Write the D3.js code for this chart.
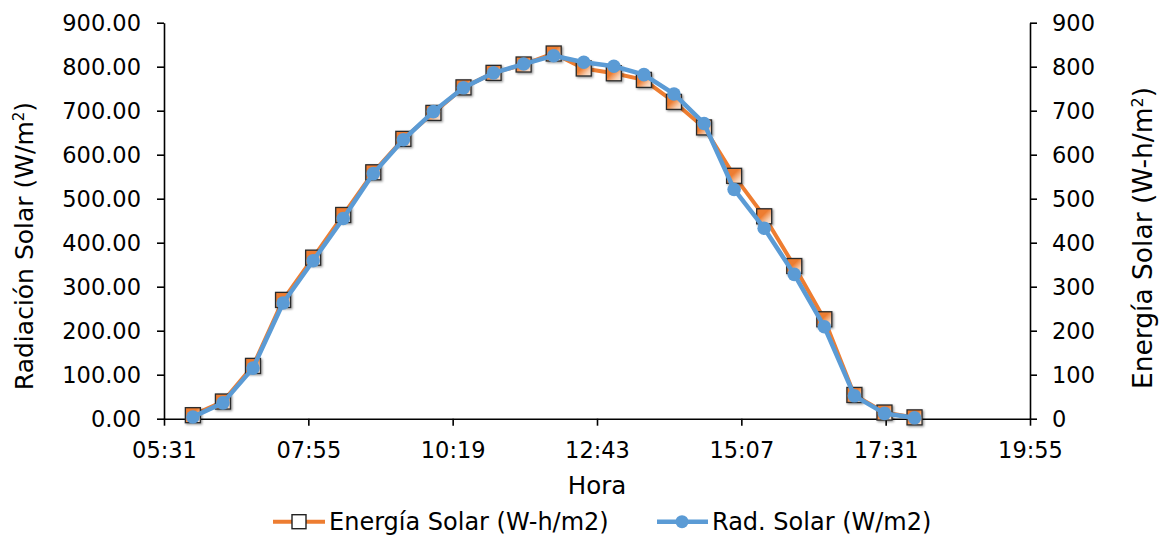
<!DOCTYPE html>
<html lang="es">
<head>
    <meta charset="UTF-8">
    <title>Radiación y Energía Solar</title>
    <script src="https://cdn.jsdelivr.net/npm/d3@7/dist/d3.min.js"></script>
    <style>
        body { margin: 0; background: #fff; }
        text { font-family: "DejaVu Sans", Verdana, sans-serif; fill: #000; }
        .axis path, .axis line { stroke: #000; stroke-width: 1.6; }
    </style>
</head>
<body>
<script>
    // datos (cada 30 min)
    var horas = ["06:00", "06:30", "07:00", "07:30", "08:00", "08:30", "09:00", "09:30",
        "10:00", "10:30", "11:00", "11:30", "12:00", "12:30", "13:00", "13:30",
        "14:00", "14:30", "15:00", "15:30", "16:00", "16:30", "17:00", "17:30", "18:00"];
    var energia = [8, 39, 120, 270, 366, 463, 560, 636, 695, 753, 786, 805, 830, 796,
        785, 770, 720, 662, 552, 460, 347, 226, 54, 14, 3];
    var radiacion = [4, 36, 115, 263, 359, 455, 557, 634, 698, 752, 786, 806, 825, 810,
        801, 782, 738, 671, 521, 433, 328, 209, 52, 12, 2];

    // ejes (fraccion de dia, como en excel)
    var xTicks = [0.23, 0.33, 0.43, 0.53, 0.63, 0.73, 0.83];
    var xTickLabels = ["05:31", "07:55", "10:19", "12:43", "15:07", "17:31", "19:55"];
    var yTicks = [0, 100, 200, 300, 400, 500, 600, 700, 800, 900];

    var W = 1162, H = 537;
    var mLeft = 164, mRight = 1030, mTop = 22.7, mBottom = 418.7;

    var svg = d3.select("body")
        .append("svg")
        .attr("width", W).attr("height", H);

    var defs = svg.append("defs");
    var grad = defs.append("linearGradient")
        .attr("id", "sq")
        .attr("x1", "0").attr("y1", "0")
        .attr("x2", "1").attr("y2", "1");
    grad.append("stop").attr("offset", "0%").attr("stop-color", "#ED7D31");
    grad.append("stop").attr("offset", "42%").attr("stop-color", "#ED7D31");
    grad.append("stop").attr("offset", "75%").attr("stop-color", "#F8CDAE");
    grad.append("stop").attr("offset", "100%").attr("stop-color", "#FDEEE3");

    var shadow = defs.append("filter")
        .attr("id", "sombra")
        .attr("x", "-50%").attr("y", "-50%")
        .attr("width", "200%").attr("height", "200%");
    shadow.append("feDropShadow")
        .attr("dx", 1.2).attr("dy", 1.2)
        .attr("stdDeviation", 0.9)
        .attr("flood-color", "#000")
        .attr("flood-opacity", 0.45);

    function toDay(s) {
        var p = s.split(":");
        return (+p[0] * 60 + +p[1]) / 1440;
    }

    var x = d3.scaleLinear().domain([0.23, 0.83]).range([mLeft, mRight]);
    var y = d3.scaleLinear().domain([0, 900]).range([mBottom, mTop]);  // Radiacion (izq)
    var y2 = d3.scaleLinear().domain([0, 900]).range([mBottom, mTop]); // Energia (der)

    // eje x
    svg.append("g")
        .attr("class", "axis")
        .attr("transform", "translate(0," + mBottom + ")")
        .call(d3.axisBottom(x).tickValues(xTicks).tickSize(7).tickSizeOuter(0)
            .tickFormat(function (d, i) { return xTickLabels[i]; }))
        .call(function (g) {
            g.selectAll("text").attr("font-size", "22.5px").attr("dy", null).attr("y", 39);
        });

    // eje y izquierdo
    svg.append("g")
        .attr("class", "axis")
        .attr("transform", "translate(" + mLeft + ",0)")
        .call(d3.axisLeft(y).tickValues(yTicks).tickSize(7).tickSizeOuter(0)
            .tickFormat(d3.format(".2f")))
        .call(function (g) {
            g.selectAll("text").attr("font-size", "22.5px").attr("x", -23).attr("dy", "0.36em");
        });

    // eje y derecho
    svg.append("g")
        .attr("class", "axis")
        .attr("transform", "translate(" + mRight + ",0)")
        .call(d3.axisRight(y2).tickValues(yTicks).tickSize(7).tickSizeOuter(0)
            .tickFormat(d3.format("d")))
        .call(function (g) {
            g.selectAll("text").attr("font-size", "22.5px").attr("x", 22).attr("dy", "0.36em");
        });

    // titulos
    svg.append("text")
        .attr("x", 597).attr("y", 494)
        .attr("text-anchor", "middle")
        .attr("font-size", "24.5px")
        .text("Hora");

    var tl = svg.append("text")
        .attr("transform", "translate(33,246) rotate(-90)")
        .attr("text-anchor", "middle")
        .attr("font-size", "25px");
    tl.append("tspan").text("Radiación Solar (W/m");
    tl.append("tspan").attr("baseline-shift", "super").attr("font-size", "15px").text("2");
    tl.append("tspan").text(")");

    var tr = svg.append("text")
        .attr("transform", "translate(1152,238) rotate(-90)")
        .attr("text-anchor", "middle")
        .attr("font-size", "26.5px");
    tr.append("tspan").text("Energía Solar (W-h/m");
    tr.append("tspan").attr("baseline-shift", "super").attr("font-size", "16px").text("2");
    tr.append("tspan").text(")");

    // series
    var lineE = d3.line()
        .x(function (d, i) { return x(toDay(horas[i])); })
        .y(function (d) { return y2(d); });
    var lineR = d3.line()
        .x(function (d, i) { return x(toDay(horas[i])); })
        .y(function (d) { return y(d); });

    svg.append("path")
        .attr("d", lineE(energia))
        .attr("fill", "none")
        .attr("stroke", "#ED7D31")
        .attr("stroke-width", 4)
        .attr("stroke-linejoin", "round");

    svg.append("g").selectAll("rect")
        .data(energia)
        .enter().append("rect")
        .attr("x", function (d, i) { return x(toDay(horas[i])) - 7.5; })
        .attr("y", function (d) { return y2(d) - 7.5; })
        .attr("width", 15).attr("height", 15)
        .attr("fill", "url(#sq)")
        .attr("stroke", "#2a2a2a")
        .attr("stroke-width", 1.3)
        .attr("filter", "url(#sombra)");

    svg.append("path")
        .attr("d", lineR(radiacion))
        .attr("fill", "none")
        .attr("stroke", "#5B9BD5")
        .attr("stroke-width", 4.5)
        .attr("stroke-linejoin", "round");

    svg.append("g").selectAll("circle")
        .data(radiacion)
        .enter().append("circle")
        .attr("cx", function (d, i) { return x(toDay(horas[i])); })
        .attr("cy", function (d) { return y(d); })
        .attr("r", 6.8)
        .attr("fill", "#5B9BD5");

    // leyenda
    var ly = 521.7;
    var leg = svg.append("g");
    leg.append("line").attr("x1", 273).attr("x2", 325).attr("y1", ly).attr("y2", ly)
        .attr("stroke", "#ED7D31").attr("stroke-width", 4);
    leg.append("rect").attr("x", 292).attr("y", ly - 7).attr("width", 14).attr("height", 14)
        .attr("fill", "#fff").attr("stroke", "#222").attr("stroke-width", 1.4);
    leg.append("text").attr("x", 329).attr("y", 530).attr("font-size", "24px")
        .text("Energía Solar (W-h/m2)");

    leg.append("line").attr("x1", 657).attr("x2", 708).attr("y1", ly).attr("y2", ly)
        .attr("stroke", "#5B9BD5").attr("stroke-width", 4.5);
    leg.append("circle").attr("cx", 682).attr("cy", ly).attr("r", 6.5)
        .attr("fill", "#5B9BD5");
    leg.append("text").attr("x", 712).attr("y", 530).attr("font-size", "24px")
        .text("Rad. Solar (W/m2)");
</script>
</body>
</html>
